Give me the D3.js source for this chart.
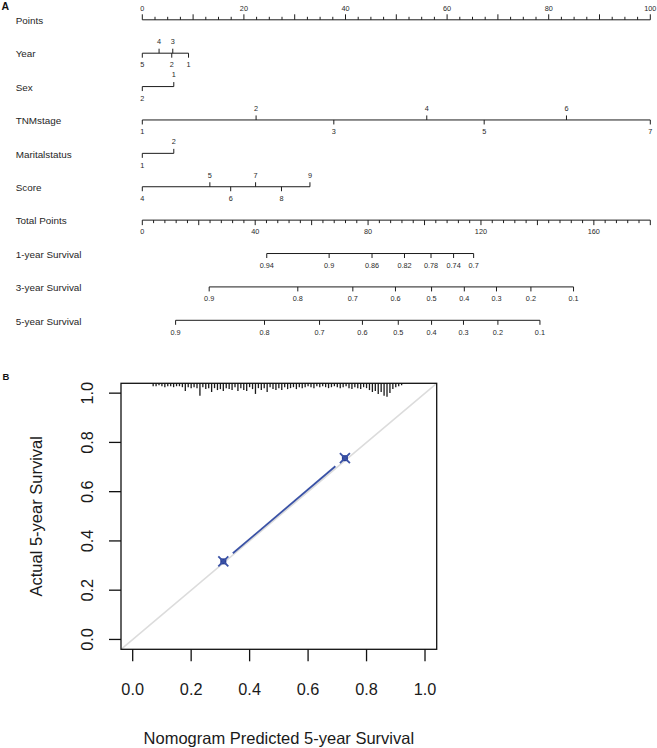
<!DOCTYPE html>
<html><head><meta charset="utf-8">
<script src="https://cdn.jsdelivr.net/npm/d3@7"></script>
<style>
body{margin:0;background:#fff}
svg{display:block}
text{font-family:"Liberation Sans",Arial,Helvetica,sans-serif}
</style>
</head><body>
<script>
// ---------- Nomogram data (panel A) ----------
const rowNames = ["Points","Year","Sex","TNMstage","Maritalstatus","Score","Total Points","1-year Survival","3-year Survival","5-year Survival"];

const pointsLabels = [0,20,40,60,80,100];
const totalLabels  = [0,40,80,120,160];

const yearLevels = ["5","4","3","2","1"];
const yearPoints = [0,3.3,6.0,5.8,9.1];
const sexLevels = ["2","1"];
const sexPoints = [0,6.2];
const tnmLevels = ["1","2","3","4","5","6","7"];
const tnmPoints = [0,22.4,37.7,56.0,67.3,83.5,100];
const maritalLevels = ["1","2"];
const maritalPoints = [0,6.2];
const scoreLevels = ["4","5","6","7","8","9"];
const scorePoints = [0,13.3,17.4,22.3,27.4,33.0];

const surv1Labels = ["0.94","0.9","0.86","0.82","0.78","0.74","0.7"];
const surv1Total  = [44.1,66.2,81.4,92.9,102.3,110.3,117.4];
const surv3Labels = ["0.9","0.8","0.7","0.6","0.5","0.4","0.3","0.2","0.1"];
const surv3Total  = [23.7,55.1,74.6,89.7,102.5,114.1,125.5,137.7,152.8];
const surv5Labels = ["0.9","0.8","0.7","0.6","0.5","0.4","0.3","0.2","0.1"];
const surv5Total  = [11.8,43.3,62.8,78.0,90.7,102.5,113.8,126.0,140.9];

// ---------- Calibration data (panel B) ----------
const calTicks = [0,0.2,0.4,0.6,0.8,1.0];
const calTickLabels = ["0.0","0.2","0.4","0.6","0.8","1.0"];
const calPredicted = [0.310,0.726];
const calObserved  = [0.317,0.736];
const diagX = [-0.04,1.04];
const diagY = [-0.04,1.04];
const riskX = [0.07,0.08,0.09,0.10,0.11,0.12,0.13,0.14,0.15,0.16,0.17,0.18,0.19,0.20,0.21,0.22,0.23,0.24,0.25,0.26,0.27,0.28,0.29,0.30,0.31,0.32,0.33,0.34,0.35,0.36,0.37,0.38,0.39,0.40,0.41,0.42,0.43,0.44,0.45,0.46,0.47,0.48,0.49,0.50,0.51,0.52,0.53,0.54,0.55,0.56,0.57,0.58,0.59,0.60,0.61,0.62,0.63,0.64,0.65,0.66,0.67,0.68,0.69,0.70,0.71,0.72,0.73,0.74,0.75,0.76,0.77,0.78,0.79,0.80,0.81,0.82,0.83,0.84,0.85,0.86,0.87,0.88,0.89,0.90,0.91,0.92];
const riskFreq = [2,2,1,2,3,2,2,3,2,2,3,7,3,4,3,4,12,3,5,4,8,4,6,5,7,4,5,6,3,7,4,6,7,3,5,10,4,6,4,8,3,5,6,4,6,3,5,4,3,5,3,4,3,2,3,4,2,3,2,3,4,3,2,3,4,3,2,4,5,3,4,5,3,4,6,8,7,10,8,12,13,9,5,3,2,1];

// ---------- Drawing ----------
const W = 657, H = 748;
const ink = "#1c1c1c";
const svg = d3.select("body").append("svg").attr("width", W).attr("height", H);
svg.append("rect").attr("width", W).attr("height", H).attr("fill", "#fff");

const xPts = d3.scaleLinear().domain([0,100]).range([142.3,650.3]);
const xTot = d3.scaleLinear().domain([0,180]).range([142.3,650.3]);
const rowY = d3.scaleLinear().domain([0,9]).range([19.8,320.3]);

const A = svg.append("g");
A.append("text").attr("x",1.5).attr("y",9.5).attr("font-size",10.5).attr("font-weight","bold").attr("fill","#111").text("A");

rowNames.forEach((n,i)=>{
  A.append("text").attr("x",15.7).attr("y",rowY(i)+0.8).attr("dominant-baseline","central")
   .attr("font-size",9.9).attr("fill","#262626").text(n);
});

const tickFont = 7.3, tickCol = "#2a2a2a";
function hline(g, x1, x2, y){
  g.append("line").attr("x1",x1).attr("x2",x2).attr("y1",y).attr("y2",y).attr("stroke",ink).attr("stroke-width",1);
}
function vtick(g, x, y, len){
  g.append("line").attr("x1",x).attr("x2",x).attr("y1",y).attr("y2",y+len).attr("stroke",ink).attr("stroke-width",1);
}
function lab(g, x, y, t){
  g.append("text").attr("x",x).attr("y",y).attr("text-anchor","middle").attr("dominant-baseline","central")
   .attr("font-size",tickFont).attr("fill",tickCol).text(t);
}

// Points axis (ticks up, labels above)
{
  const y = rowY(0);
  hline(A, xPts(0), xPts(100), y);
  d3.range(0,100.001,2.5).forEach(v=>vtick(A, xPts(v), y, v%10===0 ? -5.5 : -3));
  pointsLabels.forEach(v=>lab(A, xPts(v), y-11.5, String(v)));
}

// Variable rows: sort by points, alternate labels below/above
function varRow(i, levels, pts){
  const y = rowY(i);
  const order = d3.range(levels.length).sort((a,b)=>pts[a]-pts[b]);
  hline(A, xPts(d3.min(pts)), xPts(d3.max(pts)), y);
  order.forEach((k,j)=>{
    const up = j%2===1;
    vtick(A, xPts(pts[k]), y, up ? -4.5 : 4.5);
    lab(A, xPts(pts[k]), up ? y-11.6 : y+11.7, levels[k]);
  });
}
varRow(1, yearLevels, yearPoints);
varRow(2, sexLevels, sexPoints);
varRow(3, tnmLevels, tnmPoints);
varRow(4, maritalLevels, maritalPoints);
varRow(5, scoreLevels, scorePoints);

// Total points axis (ticks down, labels below)
{
  const y = rowY(6);
  hline(A, xTot(0), xTot(180), y);
  d3.range(0,180.001,4).forEach(v=>vtick(A, xTot(v), y, v%20===0 ? 5 : 3));
  totalLabels.forEach(v=>lab(A, xTot(v), y+11.7, String(v)));
}

// Survival axes
function survRow(i, labels, tot){
  const y = rowY(i);
  hline(A, xTot(d3.min(tot)), xTot(d3.max(tot)), y);
  tot.forEach((t,k)=>{
    vtick(A, xTot(t), y, 4.5);
    lab(A, xTot(t), y+11.7, labels[k]);
  });
}
survRow(7, surv1Labels, surv1Total);
survRow(8, surv3Labels, surv3Total);
survRow(9, surv5Labels, surv5Total);

// ---------- Panel B ----------
const B = svg.append("g");
B.append("text").attr("x",2.5).attr("y",376).attr("dominant-baseline","central").attr("font-size",9.5).attr("font-weight","bold").attr("fill","#111").text("B");

const xCal = d3.scaleLinear().domain([-0.04,1.04]).range([121,436.7]);
const yCal = d3.scaleLinear().domain([-0.04,1.04]).range([649.3,383.3]);
const hRisk = d3.scaleLinear().domain([0, d3.max(riskFreq)]).range([1,13.5]);

// diagonal reference
B.append("line").attr("x1",xCal(diagX[0])).attr("y1",yCal(diagY[0])).attr("x2",xCal(diagX[1])).attr("y2",yCal(diagY[1]))
 .attr("stroke","#dcdcdc").attr("stroke-width",1.6);

// rug / risk distribution
riskX.forEach((v,k)=>{
  B.append("line").attr("x1",xCal(v)).attr("x2",xCal(v)).attr("y1",yCal(1.04)).attr("y2",yCal(1.04)+hRisk(riskFreq[k]))
   .attr("stroke","#1a1a1a").attr("stroke-width",1.3);
});

// calibration line with gaps at points
const blue = "#3a52a6", blueDark = "#2b3f94";
{
  const p = calPredicted.map((v,k)=>[xCal(v), yCal(calObserved[k])]);
  for(let k=0;k<p.length-1;k++){
    const [x1,y1]=p[k],[x2,y2]=p[k+1];
    const L=Math.hypot(x2-x1,y2-y1), g=12.5;
    const ux=(x2-x1)/L, uy=(y2-y1)/L;
    B.append("line").attr("x1",x1+ux*g).attr("y1",y1+uy*g).attr("x2",x2-ux*g).attr("y2",y2-uy*g)
     .attr("stroke",blue).attr("stroke-width",1.8);
  }
  p.forEach(([x,y])=>{
    B.append("rect").attr("x",x-3).attr("y",y-3).attr("width",6).attr("height",6).attr("fill",blueDark);
    const s=5;
    B.append("path").attr("d",`M${x-s},${y-s}L${x+s},${y+s}M${x-s},${y+s}L${x+s},${y-s}`)
     .attr("stroke",blue).attr("stroke-width",1.8).attr("fill","none");
  });
}

// box
B.append("rect").attr("x",xCal(-0.04)).attr("y",yCal(1.04)).attr("width",xCal(1.04)-xCal(-0.04)).attr("height",yCal(-0.04)-yCal(1.04))
 .attr("fill","none").attr("stroke","#111").attr("stroke-width",1.3);

// axes ticks
const axFont = 16.3, axCol = "#1a1a1a";
calTicks.forEach((v,k)=>{
  B.append("line").attr("x1",xCal(v)).attr("x2",xCal(v)).attr("y1",yCal(-0.04)).attr("y2",yCal(-0.04)+12).attr("stroke","#111").attr("stroke-width",1.3);
  B.append("text").attr("x",xCal(v)).attr("y",689.3).attr("text-anchor","middle").attr("dominant-baseline","central")
   .attr("font-size",axFont).attr("fill",axCol).text(calTickLabels[k]);
  B.append("line").attr("x1",xCal(-0.04)-12).attr("x2",xCal(-0.04)).attr("y1",yCal(v)).attr("y2",yCal(v)).attr("stroke","#111").attr("stroke-width",1.3);
  B.append("text").attr("transform",`translate(86.7,${yCal(v)}) rotate(-90)`).attr("text-anchor","middle").attr("dominant-baseline","central")
   .attr("font-size",axFont).attr("fill",axCol).text(calTickLabels[k]);
});

B.append("text").attr("x",(xCal(-0.04)+xCal(1.04))/2).attr("y",738.3).attr("text-anchor","middle").attr("dominant-baseline","central")
 .attr("font-size",16.5).attr("fill",axCol).text("Nomogram Predicted 5-year Survival");
B.append("text").attr("transform",`translate(36,${(yCal(-0.04)+yCal(1.04))/2}) rotate(-90)`).attr("text-anchor","middle").attr("dominant-baseline","central")
 .attr("font-size",16.5).attr("fill",axCol).text("Actual 5-year Survival");
</script>
</body></html>
